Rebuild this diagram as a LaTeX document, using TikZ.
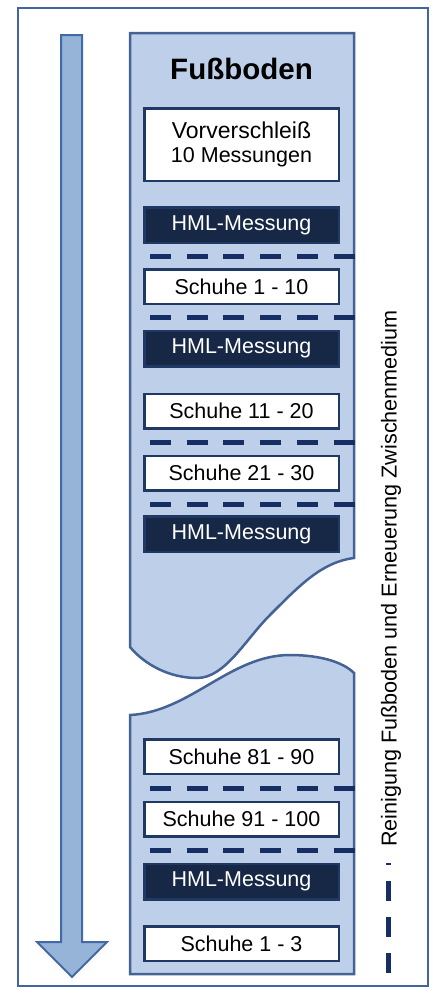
\documentclass[tikz,border=0pt]{standalone}
\usepackage{fontspec}
\setmainfont{Liberation Sans}
\usepackage{tikz}
\usetikzlibrary{calc}

\definecolor{framecol}{RGB}{66,101,158}
\definecolor{colfill}{RGB}{190,208,233}
\definecolor{coldraw}{RGB}{68,98,148}
\definecolor{arrfill}{RGB}{150,180,216}
\definecolor{arrdraw}{RGB}{66,106,166}
\definecolor{navy}{RGB}{31,56,100}
\definecolor{hmlfill}{RGB}{22,40,70}
\definecolor{dashcol}{RGB}{22,46,100}

\begin{document}
\begin{tikzpicture}[x=1pt, y=-1pt,
    shoebox/.style={draw=navy, line width=2.5pt, fill=white, minimum width=194.5pt, minimum height=34.5pt, inner sep=0pt, font=\fontsize{21.5}{24}\selectfont},
    hmlbox/.style={shoebox, fill=hmlfill, text=white, minimum height=35.5pt},
    sep/.style={draw=dashcol, line width=5pt, dash pattern=on 21pt off 15.7pt}]

    \useasboundingbox (0,0) rectangle (433,994);
    \draw[framecol, line width=2pt] (18,8) rectangle (428,986);

    % arrow
    \draw[arrdraw, fill=arrfill, line width=2pt, line join=miter] (61,35) -- (82,35) -- (82,942) -- (107,942) -- (72,977) -- (37,942) -- (61,942) -- cycle;

    % floor column, upper and lower part
    \draw[coldraw, fill=colfill, line width=2.5pt] (130,33) -- (354,33) -- (354,558)
        .. controls (322,562) and (300,585) .. (270,615)
        .. controls (245,640) and (225,678) .. (197,678)
        .. controls (170,678) and (145,665) .. (130,647) -- cycle;
    \draw[coldraw, fill=colfill, line width=2.5pt] (130,715)
        .. controls (190,712) and (230,655) .. (290,655)
        .. controls (320,655) and (343,662) .. (354,673) -- (354,974) -- (130,974) -- cycle;

    \node[font=\fontsize{29.5}{32}\selectfont\bfseries, anchor=base] (title) at (241.5,79.5) {Fußboden};

    \node[shoebox, minimum height=72.5pt, align=center] (pre) at (241.5,144.5) {\fontsize{23}{25}\selectfont Vorverschleiß\\\fontsize{21.5}{25}\selectfont 10 Messungen};
    \node[hmlbox] (h1) at (241.5,225) {HML-Messung};
    \node[shoebox] (s1) at (241.5,286.5) {Schuhe 1 - 10};
    \node[hmlbox] (h2) at (241.5,348.5) {HML-Messung};
    \node[shoebox] (s2) at (241.5,411) {Schuhe 11 - 20};
    \node[shoebox] (s3) at (241.5,473) {Schuhe 21 - 30};
    \node[hmlbox] (h3) at (241.5,534) {HML-Messung};

    \node[shoebox] (s9) at (241.5,756.5) {Schuhe 81 - 90};
    \node[shoebox] (s10) at (241.5,819) {Schuhe 91 - 100};
    \node[hmlbox] (h4) at (241.5,881.5) {HML-Messung};
    \node[shoebox] (s11) at (241.5,943.5) {Schuhe 1 - 3};

    % cleaning steps
    \coordinate (d1a) at (150,256.5); \coordinate (d1b) at (355,256.5);
    \coordinate (d2a) at (150,317.5); \coordinate (d2b) at (355,317.5);
    \coordinate (d3a) at (150,442.5); \coordinate (d3b) at (355,442.5);
    \coordinate (d4a) at (150,504.5); \coordinate (d4b) at (355,504.5);
    \coordinate (d5a) at (150,788.5); \coordinate (d5b) at (355,788.5);
    \coordinate (d6a) at (150,850.5); \coordinate (d6b) at (355,850.5);
    \draw[sep] (d1a) -- (d1b);
    \draw[sep] (d2a) -- (d2b);
    \draw[sep] (d3a) -- (d3b);
    \draw[sep] (d4a) -- (d4b);
    \draw[sep] (d5a) -- (d5b);
    \draw[sep] (d6a) -- (d6b);

    \node[rotate=90, font=\fontsize{21.6}{24}\selectfont, inner sep=0pt] (clean) at (391,578.5) {Reinigung Fußboden und Erneuerung Zwischenmedium};
    \coordinate (c1) at (388,863);
    \coordinate (c2) at (388,975);
    \draw[dashcol, line width=5pt, dash pattern=on 20pt off 16pt, dash phase=18pt] (c1) -- (c2);
\end{tikzpicture}
\end{document}
